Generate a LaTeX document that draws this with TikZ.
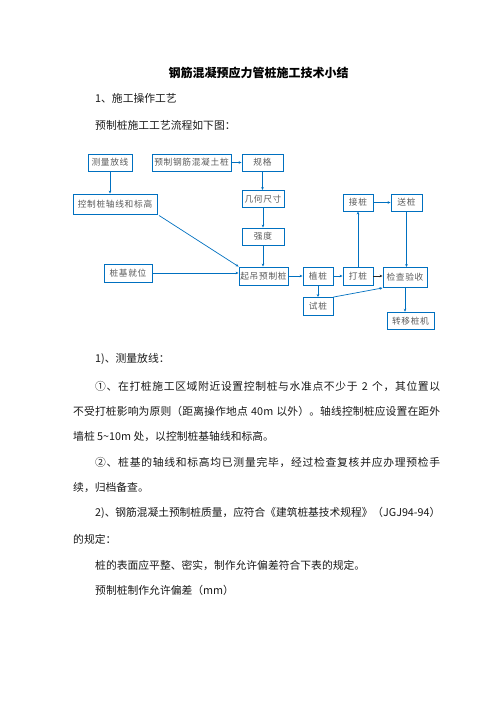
\documentclass[tikz,border=0pt]{standalone}
\usepackage{fontspec}
\usepackage{graphicx}
\setmainfont{Noto Sans CJK SC}
\newfontfamily\boxfont{Noto Sans CJK SC}[LetterSpace=8]
\usetikzlibrary{arrows.meta}
\definecolor{lineblue}{RGB}{0,112,192}
\definecolor{boxtext}{RGB}{90,90,90}
\definecolor{bodytext}{RGB}{25,25,25}
\def\spr#1{\sprA#1\relax}
\def\sprA#1{#1\sprB}
\def\sprB#1{\ifx#1\relax\else\hskip0pt plus1fil\relax#1\expandafter\sprB\fi}
\def\gap{\kern3pt}
\newcommand\jline[2]{\hbox to #1{\spr{#2}}}
\tikzset{
  fbox/.style={draw=lineblue, line width=0.9pt, text=boxtext,
    font=\fontsize{8.7}{10}\boxfont, inner sep=0pt, minimum height=17pt},
  arr/.style={draw=lineblue, line width=0.7pt, -{Stealth[length=3pt,width=2.6pt]}},
  body/.style={anchor=west, inner sep=0pt, text=bodytext, font=\fontsize{10.8}{13}\selectfont},
}
\begin{document}
\begin{tikzpicture}[x=1pt,y=-1pt]
\useasboundingbox (0,0) rectangle (496,702);
% title and intro
\node[inner sep=0pt, font=\fontsize{12}{14}\selectfont\bfseries] (title) at (258.5,73) {钢筋混凝预应力管桩施工技术小结};
\node[body] (t1) at (95,98) {1、施工操作工艺};
\node[body] (t2) at (95,125) {预制桩施工工艺流程如下图：};
% flowchart boxes
\node[fbox, minimum width=44pt] (A) at (110,162.5) {测量放线};
\node[fbox, minimum width=79pt] (B) at (191.5,162.5) {预制钢筋混凝土桩};
\node[fbox, minimum width=41pt] (C) at (262.5,162.5) {规格};
\node[fbox, minimum width=84pt, minimum height=20pt] (D) at (115,204) {控制桩轴线和标高};
\node[fbox, minimum width=42pt] (E) at (263,199) {几何尺寸};
\node[fbox, minimum width=42pt] (F) at (263,236.5) {强度};
\node[fbox, minimum width=30pt] (G) at (358,202.5) {接桩};
\node[fbox, minimum width=31pt] (H) at (406.5,202.5) {送桩};
\node[fbox, minimum width=48pt, minimum height=18pt] (I) at (128,273) {桩基就位};
\node[fbox, minimum width=49pt, minimum height=18pt] (J) at (263.5,276) {起吊预制桩};
\node[fbox, minimum width=30pt, minimum height=18pt] (K) at (318,276) {植桩};
\node[fbox, minimum width=30pt, minimum height=18pt] (L) at (358,276) {打桩};
\node[fbox, minimum width=44pt, minimum height=20pt] (M) at (405,277.5) {检查验收};
\node[fbox, minimum width=30pt, minimum height=18pt] (N) at (318,306.5) {试桩};
\node[fbox, minimum width=47pt] (O) at (410.5,320.7) {转移桩机};
% connectors
\draw[arr] (A.south) -- (A.south |- D.north);
\draw[arr] (B) -- (C);
\draw[arr] (C.south) -- (C.south |- E.north);
\draw[arr] (E.south) -- (E.south |- F.north);
\draw[arr] (F.south) -- (F.south |- J.north);
\draw[arr, shorten <=2pt] (D.south east) -- (J.north west);
\draw[arr] (I.east) -- (I.east -| J.west);
\draw[arr] (J) -- (K);
\draw[arr] (K) -- (L);
\draw[arr, draw=black!85] (L.east) -- (L.east -| M.west);
\draw[arr] (L.north) -- (L.north |- G.south);
\draw[arr] (G) -- (H);
\draw[arr] (H.south) -- (H.south |- M.north);
\draw[arr] (K.south) -- (K.south |- N.north);
\draw[arr] (N.north east) -- (M.south west);
\draw[arr] (M.south) -- (M.south |- O.north);
% body text
\node[body] (p1) at (95,359) {1)、测量放线：};
\node[body] (p2) at (95,386) {\jline{345pt}{①、在打桩施工区域附近设置控制桩与水准点不少于\gap 2\gap 个，其位置以}};
\node[body] (p3) at (73,411) {\jline{367pt}{不受打桩影响为原则（距离操作地点\gap 40m\gap 以外）。轴线控制桩应设置在距外}};
\node[body] (p4) at (73,437) {墙桩 5\textasciitilde 10m 处，以控制桩基轴线和标高。};
\node[body] (p5) at (95,462) {\jline{345pt}{②、桩基的轴线和标高均已测量完毕，经过检查复核并应办理预检手}};
\node[body] (p6) at (73,488) {续，归档备查。};
\node[body] (p7) at (95,513) {\resizebox{345pt}{\height}{2)、钢筋混凝土预制桩质量，应符合《建筑桩基技术规程》（JGJ94-94）}};
\node[body] (p8) at (73,539) {的规定：};
\node[body] (p9) at (95,565) {桩的表面应平整、密实，制作允许偏差符合下表的规定。};
\node[body] (p10) at (95,590) {预制桩制作允许偏差（mm）};
\end{tikzpicture}
\end{document}
